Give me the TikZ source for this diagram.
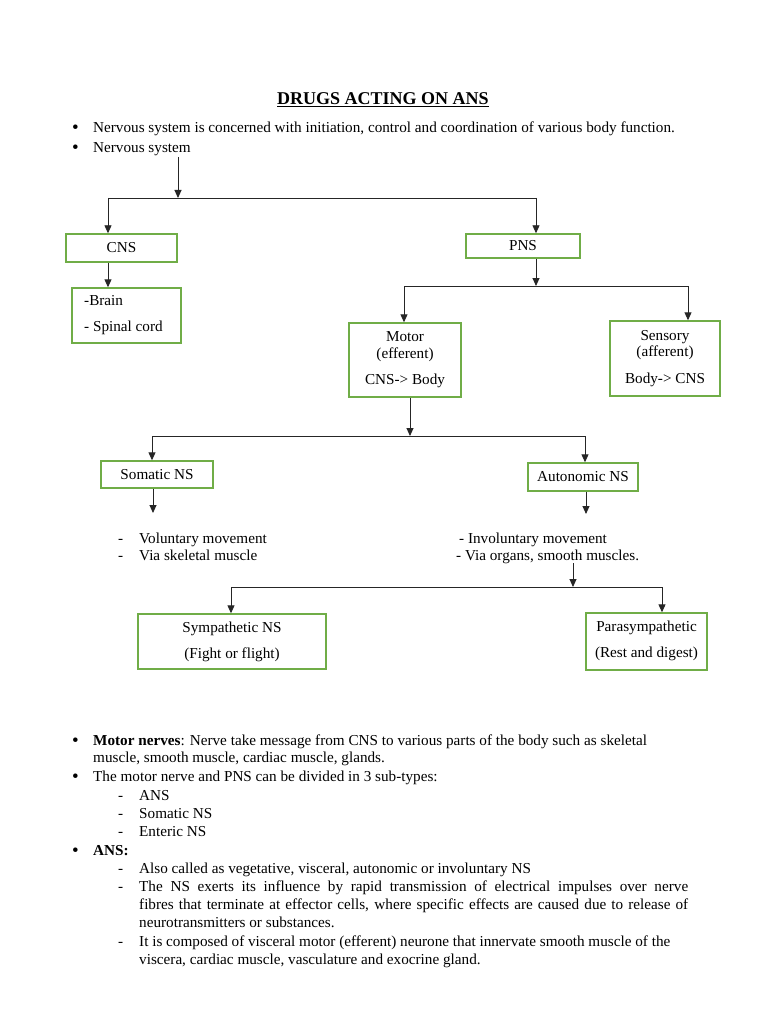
\documentclass[tikz,border=0pt]{standalone}
\usepackage{fontspec}
\setmainfont{Liberation Serif}
\usetikzlibrary{arrows.meta}
\newcommand{\bfs}{\fontsize{15.2}{18}\selectfont}
\begin{document}
\begin{tikzpicture}[x=1pt,y=-1pt,
  txt/.style={anchor=base west,inner sep=0pt,font=\bfs},
  bul/.style={anchor=base west,inner sep=0pt,font=\fontsize{19}{20}\selectfont},
  ctxt/.style={anchor=base,inner sep=0pt,font=\bfs},
  gbox/.style={draw=boxgreen,line width=1.4pt,inner sep=0pt,align=center,font=\bfs},
  ln/.style={draw=black!85,line width=0.9pt},
  arr/.style={ln,-{Triangle[length=8pt,width=7pt]}}]
\definecolor{boxgreen}{RGB}{112,173,71}
\useasboundingbox[fill=white] (0,0) rectangle (768,1024);
% title
\node[ctxt,font=\fontsize{18}{20}\selectfont\bfseries] (title) at (383,105) {\underline{DRUGS ACTING ON ANS}};
% bullets top
\node[bul] (b1) at (72,134) {•};
\node[txt] (t1) at (93,133) {Nervous system is concerned with initiation, control and coordination of various body function.};
\node[bul] (b2) at (72,154) {•};
\node[txt] (t2) at (93,153) {Nervous system};
% boxes
\node[gbox,minimum width=111pt,minimum height=28pt] (cns) at (121.5,248) {CNS};
\node[gbox,minimum width=114pt,minimum height=24pt] (pns) at (523,246) {PNS};
\node[gbox,minimum width=109pt,minimum height=55pt] (brain) at (126.5,315.5) {};
\node[txt] (brain1) at (84,305) {-Brain};
\node[txt] (brain2) at (84,331) {- Spinal cord};
\node[gbox,minimum width=112pt,minimum height=74pt] (motor) at (405,360) {};
\node[ctxt] (motor1) at (405,341) {Motor};
\node[ctxt] (motor2) at (405,358) {(efferent)};
\node[ctxt] (motor3) at (405,384) {CNS-> Body};
\node[gbox,minimum width=110pt,minimum height=75pt] (sens) at (665,358.5) {};
\node[ctxt] (sens1) at (665,340) {Sensory};
\node[ctxt] (sens2) at (665,356) {(afferent)};
\node[ctxt] (sens3) at (665,383) {Body-> CNS};
\node[gbox,minimum width=112pt,minimum height=27pt] (som) at (157,474.5) {Somatic NS};
\node[gbox,minimum width=110pt,minimum height=28pt] (aut) at (583,477) {Autonomic NS};
\node[gbox,minimum width=188pt,minimum height=55pt] (sym) at (232,641.5) {};
\node[ctxt] (sym1) at (232,632) {Sympathetic NS};
\node[ctxt] (sym2) at (232,658) {(Fight or flight)};
\node[gbox,minimum width=121pt,minimum height=57pt] (para) at (646.5,641.5) {};
\node[ctxt] (para1) at (646.5,631) {Parasympathetic};
\node[ctxt] (para2) at (646.5,657) {(Rest and digest)};
% lists under somatic/autonomic
\node[txt] (vd1) at (118,543) {-};
\node[txt] (v1) at (139,543) {Voluntary movement};
\node[txt] (vd2) at (118,560) {-};
\node[txt] (v2) at (139,560) {Via skeletal muscle};
\node[txt] (iv1) at (459,543) {- Involuntary movement};
\node[txt] (iv2) at (456,560) {- Via organs, smooth muscles.};
% connectors
\coordinate (a0) at (178,157);
\coordinate (h1l) at (108,198);
\coordinate (h1r) at (536,198);
\draw[arr] (a0) -- (a0 |- h1l);
\draw[ln] (h1l) -- (h1r);
\draw[arr] (h1l) -- (h1l |- cns.north);
\draw[arr] (h1r) -- (h1r |- pns.north);
\draw[arr] (cns.south -| 108,0) -- (brain.north -| 108,0);
\coordinate (h2l) at (404,286);
\coordinate (h2r) at (688,286);
\draw[arr] (pns.south -| h1r) -- (h1r |- h2l);
\draw[ln] (h2l) -- (h2r);
\draw[arr] (h2l) -- (h2l |- motor.north);
\draw[arr] (h2r) -- (h2r |- sens.north);
\coordinate (h3l) at (152,436);
\coordinate (h3r) at (585,436);
\coordinate (m3) at (410,0);
\draw[arr] (motor.south -| m3) -- (m3 |- h3l);
\draw[ln] (h3l) -- (h3r);
\draw[arr] (h3l) -- (h3l |- som.north);
\draw[arr] (h3r) -- (h3r |- aut.north);
\coordinate (s1) at (153,513);
\draw[arr] (som.south -| s1) -- (s1);
\coordinate (s2) at (586,514);
\draw[arr] (aut.south -| s2) -- (s2);
\coordinate (a4) at (573,563);
\coordinate (h4l) at (231,587);
\coordinate (h4r) at (662,587);
\draw[arr] (a4) -- (a4 |- h4l);
\draw[ln] (h4l) -- (h4r);
\draw[arr] (h4l) -- (h4l |- sym.north);
\draw[arr] (h4r) -- (h4r |- para.north);
% bottom text
\node[bul] (b3) at (72,746) {•};
\node[txt] (t3) at (93,745) {\textbf{Motor nerves}: Nerve take message from CNS to various parts of the body such as skeletal};
\node[txt] (t3b) at (93,762) {muscle, smooth muscle, cardiac muscle, glands.};
\node[bul] (b4) at (72,782) {•};
\node[txt] (t4) at (93,781) {The motor nerve and PNS can be divided in 3 sub-types:};
\node[txt] (d1) at (118,800) {-};
\node[txt] (l1) at (139,800) {ANS};
\node[txt] (d2) at (118,818) {-};
\node[txt] (l2) at (139,818) {Somatic NS};
\node[txt] (d3) at (118,836) {-};
\node[txt] (l3) at (139,836) {Enteric NS};
\node[bul] (b5) at (72,856) {•};
\node[txt] (t5) at (93,855) {\textbf{ANS:}};
\node[txt] (d4) at (118,873) {-};
\node[txt] (l4) at (139,873) {Also called as vegetative, visceral, autonomic or involuntary NS};
\node[txt] (d5) at (118,891) {-};
\node[txt] (l5) at (139,891) {\makebox[549pt][s]{The NS exerts its influence by rapid transmission of electrical impulses over nerve}};
\node[txt] (l5b) at (139,909) {\makebox[549pt][s]{fibres that terminate at effector cells, where specific effects are caused due to release of}};
\node[txt] (l5c) at (139,927) {neurotransmitters or substances.};
\node[txt] (d6) at (118,946) {-};
\node[txt] (l6) at (139,946) {It is composed of visceral motor (efferent) neurone that innervate smooth muscle of the};
\node[txt] (l6b) at (139,964) {viscera, cardiac muscle, vasculature and exocrine gland.};
\end{tikzpicture}
\end{document}
